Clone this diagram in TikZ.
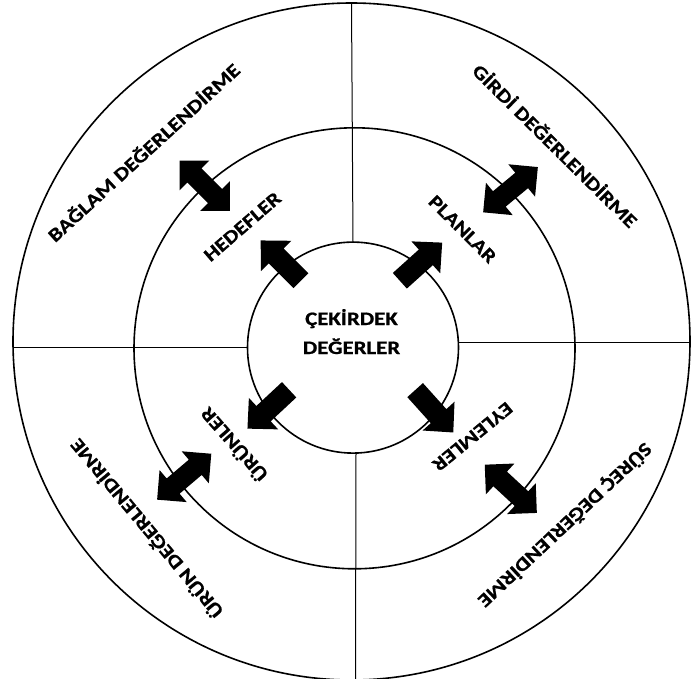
\documentclass[tikz,border=0pt]{standalone}
\usepackage{fontspec}
\setmainfont{Carlito}[FakeStretch=1.2, BoldFeatures={FakeBold=0.8}]
\begin{document}
\begin{tikzpicture}[x=1pt,y=-1pt,
  ring/.style={circle, draw=black, line width=1.6pt, inner sep=0pt, outer sep=0pt},
  divider/.style={draw=black, line width=1pt},
  lbl/.style={font=\fontsize{19}{23}\selectfont\bfseries, inner sep=0pt},
  sarrow/.pic={\fill[black] (-28.5,-10.5) -- (6.5,-10.5) -- (6.5,-21.5) -- (28.5,0) -- (6.5,21.5) -- (6.5,10.5) -- (-28.5,10.5) -- cycle;},
  darrow/.pic={\fill[black] (-35.5,0) -- (-14.5,-21) -- (-14.5,-10) -- (14.5,-10) -- (14.5,-21) -- (35.5,0) -- (14.5,21) -- (14.5,10) -- (-14.5,10) -- (-14.5,21) -- cycle;}
]
\clip (0,0) rectangle (691,679);
\fill[white] (0,0) rectangle (691,679);
% rings
\node[ring, minimum size=677pt] (outer) at (351.5,341.5) {};
\node[ring, minimum size=441pt] (middle) at (354.5,348.3) {};
\node[ring, minimum size=211pt] (inner) at (353,347.6) {};
% dividers
\draw[divider] (outer.north) -- (inner.north);
\draw[divider] ([xshift=3pt]inner.south) -- ([xshift=4pt]outer.south);
\draw[divider] (outer.west |- inner.west) -- (inner.west);
\draw[divider] (inner.3) -- (inner.3 -| outer.east);
% core text
\node[lbl, anchor=base] (core1) at (351.5,325) {ÇEKİRDEK};
\node[lbl, anchor=base] (core2) at (351.5,354) {DEĞERLER};
% outer labels
\node[lbl, rotate=42.6] (baglam) at (143,151.7) {BAĞLAM DEĞERLENDİRME};
\node[lbl, rotate=-44.7] (girdi) at (555.8,145) {GİRDİ DEĞERLENDİRME};
\node[lbl, rotate=129.9] (urun) at (145.8,529.2) {ÜRÜN DEĞERLENDİRME};
\node[lbl, rotate=223.2] (surec) at (565,525) {SÜREÇ DEĞERLENDİRME};
% inner labels
\node[lbl, rotate=40.9] (hedef) at (242.5,226.7) {HEDEFLER};
\node[lbl, rotate=-45] (plan) at (462.5,229.2) {PLANLAR};
\node[lbl, rotate=131.5] (urunler) at (233.3,445) {ÜRÜNLER};
\node[lbl, rotate=219.4] (eylem) at (472.5,436.7) {EYLEMLER};
% single arrows from core
\pic[rotate=135] at (280.8,260.6) {sarrow};
\pic[rotate=42] at (421,261.7) {sarrow};
\pic[rotate=223] at (268.3,409.2) {sarrow};
\pic[rotate=-48] at (434.2,411.3) {sarrow};
% double arrows on middle ring
\pic[rotate=-45] at (204.7,185.8) {darrow};
\pic[rotate=39.6] at (510.5,189.7) {darrow};
\pic[rotate=40.3] at (184.2,476.7) {darrow};
\pic[rotate=-42.8] at (510.8,488.8) {darrow};
\end{tikzpicture}
\end{document}
